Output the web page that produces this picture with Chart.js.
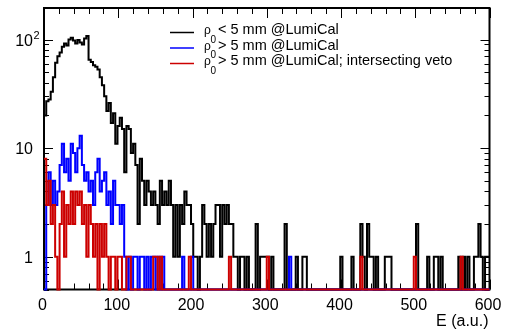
<!DOCTYPE html>
<html lang="en">
<head>
<meta charset="UTF-8">
<title>E spectrum @LumiCal</title>
<script src="https://cdn.jsdelivr.net/npm/chart.js@4"></script>
<style>
  html, body { margin: 0; padding: 0; background: #fff; }
</style>
</head>
<body>
<canvas id="c" width="506" height="333"></canvas>
<script>
// histogram binning: 200 bins of 3 units from 0 to 600
const binWidth = 3;
const xMin = 0, xMax = 600;
const yMin = 0.5, yMax = 195;
const xTickLabels = ['0', '100', '200', '300', '400', '500', '600'];
const yTickLabels = [1, 10, 100];
const xTitle = 'E (a.u.)';

// legend text: [main symbol, subscript, rest]
const legendLabels = [
  ['\u03c1', '0', '< 5 mm @LumiCal'],
  ['\u03c1', '0', '> 5 mm @LumiCal'],
  ['\u03c1', '0', '> 5 mm @LumiCal; intersecting veto']
];

// rho_0 < 5 mm @LumiCal
const countsInner = [
  20, 27, 28, 33, 45, 61, 70, 76, 86, 92, 88, 100, 104, 98, 92, 99, 94, 90, 102, 108,
  65, 62, 58, 56, 53, 45, 38, 30, 22, 26, 17, 21, 11, 16, 19, 15, 6, 16, 15, 9,
  11, 7, 2, 8, 5, 3, 5, 4, 3, 4, 3, 2, 5, 3, 4, 3, 5, 3, 1, 3,
  1, 3, 2, 4, 3, 3, 2, 1, 1, 0, 1, 3, 2, 1, 2, 1, 2, 3, 3, 1,
  3, 2, 3, 2, 2, 1, 1, 0, 1, 1, 0, 1, 0, 0, 0, 2, 0, 1, 1, 1,
  1, 0, 1, 0, 0, 0, 0, 0, 2, 0, 0, 0, 0, 1, 0, 0, 1, 1, 0, 0,
  0, 0, 0, 0, 0, 0, 0, 0, 0, 0, 0, 0, 0, 1, 0, 0, 0, 0, 1, 0,
  0, 0, 2, 1, 0, 2, 1, 1, 0, 1, 0, 0, 0, 1, 1, 1, 0, 0, 0, 0,
  0, 0, 0, 0, 0, 0, 0, 2, 0, 0, 0, 0, 1, 0, 0, 1, 1, 0, 1, 0,
  0, 0, 0, 0, 0, 0, 1, 0, 1, 0, 1, 0, 0, 1, 1, 2, 1, 0, 1, 1
];

// rho_0 > 5 mm @LumiCal
const countsOuter = [
  0, 3, 6, 3, 5, 3, 4, 7, 11, 6, 8, 5, 11, 9, 6, 10, 13, 7, 5, 6,
  4, 5, 3, 6, 8, 4, 5, 6, 3, 4, 2, 5, 3, 3, 2, 3, 1, 0, 1, 0,
  1, 1, 0, 1, 1, 0, 1, 0, 1, 1, 0, 1, 0, 1, 0, 0, 0, 0, 0, 0,
  0, 0, 1, 0, 0, 0, 1, 0, 0, 0, 0, 0, 0, 0, 0, 0, 0, 0, 0, 0,
  0, 0, 0, 0, 0, 0, 0, 0, 0, 0, 0, 0, 0, 0, 0, 0, 0, 0, 0, 0,
  0, 0, 0, 0, 0, 0, 0, 0, 0, 0, 1, 0, 0, 0, 0, 0, 0, 0, 0, 0,
  0, 0, 0, 0, 0, 0, 0, 0, 0, 0, 0, 0, 0, 0, 0, 0, 0, 0, 0, 0,
  0, 0, 0, 0, 0, 0, 0, 0, 0, 0, 0, 0, 0, 0, 0, 0, 0, 0, 0, 0,
  0, 0, 0, 0, 0, 0, 0, 0, 0, 0, 0, 0, 0, 0, 0, 0, 0, 0, 0, 0,
  0, 0, 0, 0, 0, 0, 0, 0, 0, 0, 0, 0, 0, 0, 0, 0, 0, 0, 0, 0
];

// rho_0 > 5 mm @LumiCal; intersecting veto
const countsVeto = [
  8, 3, 5, 2, 3, 1, 0, 2, 4, 1, 3, 2, 4, 2, 4, 3, 4, 2, 3, 1,
  3, 2, 1, 2, 0, 2, 1, 2, 1, 0, 1, 1, 0, 1, 1, 0, 0, 1, 1, 0,
  0, 0, 0, 0, 0, 0, 0, 0, 0, 1, 1, 0, 1, 0, 0, 0, 0, 0, 0, 0,
  0, 0, 0, 0, 0, 1, 0, 0, 0, 0, 0, 0, 0, 0, 0, 0, 0, 0, 0, 0,
  0, 0, 0, 1, 0, 0, 0, 0, 0, 0, 0, 0, 0, 0, 0, 0, 0, 0, 0, 0,
  1, 0, 0, 0, 0, 0, 0, 0, 0, 0, 0, 0, 0, 0, 0, 0, 0, 0, 0, 0,
  0, 0, 0, 0, 0, 0, 0, 0, 0, 0, 0, 0, 0, 0, 0, 0, 0, 0, 0, 0,
  0, 0, 1, 0, 0, 0, 0, 0, 0, 0, 0, 0, 0, 0, 0, 0, 0, 0, 0, 0,
  0, 0, 0, 0, 0, 0, 1, 0, 0, 0, 0, 0, 0, 0, 0, 0, 0, 0, 0, 0,
  0, 0, 0, 0, 0, 0, 0, 1, 0, 0, 0, 0, 0, 0, 0, 0, 0, 0, 0, 0
];

const colors = ['#000000', '#0000ff', '#cc0000'];
const FONT = '"Liberation Sans", Arial, Helvetica, sans-serif';

// turn bin contents into step points (left edges + closing edge); empty bins sit on the axis floor
function histPoints(counts) {
  const pts = counts.map((c, i) => ({ x: xMin + i * binWidth, y: c > 0 ? c : yMin }));
  const last = counts[counts.length - 1];
  pts.push({ x: xMax, y: last > 0 ? last : yMin });
  return pts;
}

function drawTicks(chart) {
  const ctx = chart.ctx;
  const a = chart.chartArea;
  const xs = chart.scales.x, ys = chart.scales.y;
  ctx.save();
  ctx.strokeStyle = '#000';
  ctx.lineWidth = 1;
  ctx.beginPath();
  // x ticks, bottom and top, inside the frame
  for (let v = xMin; v <= xMax; v += 20) {
    const px = Math.round(xs.getPixelForValue(v)) + 0.5;
    const len = v % 100 === 0 ? 10 : 6;
    ctx.moveTo(px, a.bottom); ctx.lineTo(px, a.bottom - len);
    ctx.moveTo(px, a.top); ctx.lineTo(px, a.top + len);
  }
  // log y ticks, left and right
  for (let d = 0.1; d <= 100; d *= 10) {
    for (let k = 1; k <= 9; k++) {
      const v = k * d;
      if (v < yMin - 1e-9 || v > yMax) continue;
      const py = Math.round(ys.getPixelForValue(v)) + 0.5;
      const len = k === 1 ? 9 : 5;
      ctx.moveTo(a.left, py); ctx.lineTo(a.left + len, py);
      ctx.moveTo(a.right, py); ctx.lineTo(a.right - len, py);
    }
  }
  ctx.stroke();
  ctx.lineWidth = 2;
  ctx.strokeRect(a.left, a.top, a.right - a.left, a.bottom - a.top);
  ctx.restore();
}

function drawTexts(chart) {
  const ctx = chart.ctx;
  const a = chart.chartArea;
  const xs = chart.scales.x, ys = chart.scales.y;
  ctx.save();
  ctx.fillStyle = '#000';
  ctx.textBaseline = 'alphabetic';

  // x tick labels
  ctx.font = '16px ' + FONT;
  ctx.textAlign = 'center';
  xTickLabels.forEach(t => {
    ctx.fillText(t, xs.getPixelForValue(Number(t)) - 1.5, a.bottom + 20);
  });
  // x title
  ctx.textAlign = 'right';
  ctx.fillText(xTitle, a.right - 1, a.bottom + 36);

  // y tick labels (10^2 with raised exponent)
  yTickLabels.forEach(v => {
    const py = ys.getPixelForValue(v);
    ctx.font = '16px ' + FONT;
    ctx.textAlign = 'right';
    if (v === 100) {
      ctx.fillText('10', 33, py + 6);
      ctx.font = '11px ' + FONT;
      ctx.textAlign = 'left';
      ctx.fillText('2', 33.5, py - 1);
    } else {
      ctx.fillText(String(v), 33, py + 6);
    }
  });

  // legend
  const lx0 = 170, lx1 = 194;
  const rows = [32.5, 48, 63.5];
  legendLabels.forEach((lab, i) => {
    const y = rows[i];
    ctx.strokeStyle = colors[i];
    ctx.lineWidth = 1.5;
    ctx.beginPath();
    ctx.moveTo(lx0, y); ctx.lineTo(lx1, y);
    ctx.stroke();
    ctx.fillStyle = '#000';
    ctx.textAlign = 'left';
    ctx.font = '12px ' + FONT;
    ctx.fillText(lab[0], 204, y + 1.5);
    ctx.font = '10px ' + FONT;
    ctx.fillText(lab[1], 210.5, y + 10);
    ctx.font = '14.5px ' + FONT;
    ctx.fillText(lab[2], 218, y + 1.5);
  });
  ctx.restore();
}

const rootStyle = {
  id: 'rootStyle',
  beforeDatasetsDraw(chart) { drawTicks(chart); },
  afterDraw(chart) { drawTexts(chart); }
};

const series = [countsInner, countsOuter, countsVeto];

new Chart(document.getElementById('c'), {
  type: 'line',
  data: {
    datasets: series.map((counts, i) => ({
      label: legendLabels[i].join(''),
      data: histPoints(counts),
      borderColor: colors[i],
      borderWidth: 2,
      stepped: true,
      pointRadius: 0,
      fill: false,
      clip: false,
      order: 3 - i
    }))
  },
  options: {
    responsive: false,
    animation: false,
    events: [],
    layout: { padding: { left: 44, right: 16.5, top: 8, bottom: 43.5 } },
    plugins: { legend: { display: false }, tooltip: { enabled: false } },
    scales: {
      x: { type: 'linear', min: xMin, max: xMax, display: false },
      y: { type: 'logarithmic', min: yMin, max: yMax, display: false }
    }
  },
  plugins: [rootStyle]
});
</script>
</body>
</html>
